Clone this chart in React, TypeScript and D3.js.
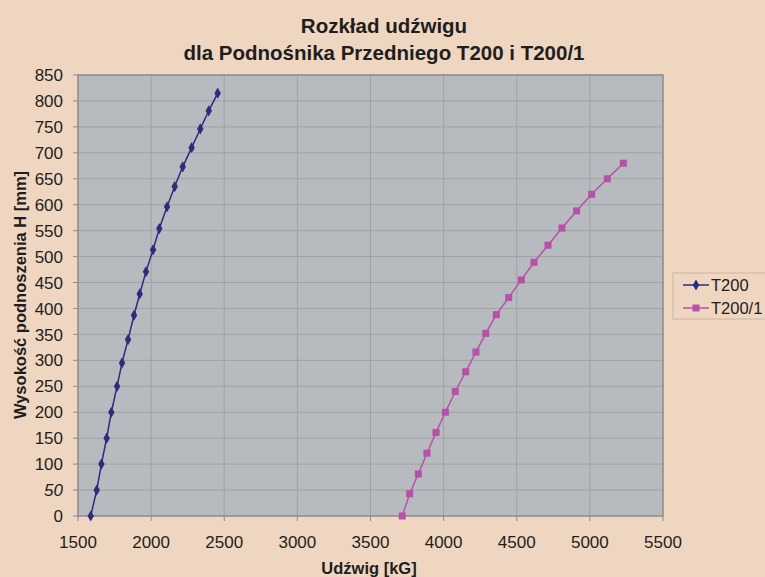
import React, { useEffect, useRef } from "react";
import * as d3 from "d3";

const T200_X = [1587, 1628, 1660, 1696, 1728, 1767, 1801, 1842, 1883, 1922, 1965, 2013, 2056, 2109, 2161, 2216, 2277, 2336, 2394, 2455];
const T200_Y = [0, 50, 100, 150, 200, 250, 295, 340, 387, 428, 471, 513, 554, 596, 635, 673, 710, 746, 781, 815];
const T2001_X = [3717, 3768, 3827, 3886, 3948, 4012, 4080, 4151, 4221, 4288, 4360, 4445, 4531, 4618, 4714, 4809, 4909, 5012, 5119, 5229];
const T2001_Y = [0, 43, 81, 121, 161, 200, 240, 278, 316, 352, 388, 421, 455, 489, 522, 555, 588, 620, 650, 680];
const X_TICKS = [1500, 2000, 2500, 3000, 3500, 4000, 4500, 5000, 5500];
const Y_TICKS = [0, 50, 100, 150, 200, 250, 300, 350, 400, 450, 500, 550, 600, 650, 700, 750, 800, 850];
const SERIES_NAMES = ["T200", "T200/1"];
const TITLE_LINES = ["Rozkład udźwigu", "dla Podnośnika Przedniego T200 i T200/1"];
const X_LABEL = "Udźwig [kG]";
const Y_LABEL = "Wysokość podnoszenia H [mm]";

const W = 765, H = 577;
const L = 78, R = 663, T = 75, B = 516;
const FONT = "'Liberation Sans', Arial, sans-serif";
const TXT = "#1e1e1e";

export default function App() {
  const ref = useRef<SVGSVGElement>(null);
  useEffect(() => {
    document.body.style.margin = "0";
    const svg = d3.select(ref.current);
    svg.selectAll("*").remove();
    const x = d3.scaleLinear().domain([1500, 5500]).range([L, R]);
    const y = d3.scaleLinear().domain([0, 850]).range([B, T]);

    svg.append("rect").attr("width", W).attr("height", H).attr("fill", "#efd6c0");
    svg.append("rect").attr("x", L).attr("y", T).attr("width", R - L).attr("height", B - T).attr("fill", "#b7bbbf");

    const g = svg.append("g");
    g.selectAll(".gx").data(X_TICKS.slice(1, -1)).join("line")
      .attr("x1", d => x(d)).attr("x2", d => x(d)).attr("y1", T).attr("y2", B)
      .attr("stroke", "#9ea2a6").attr("stroke-width", 1);
    g.selectAll(".gy").data(Y_TICKS.slice(1, -1)).join("line")
      .attr("y1", d => y(d)).attr("y2", d => y(d)).attr("x1", L).attr("x2", R)
      .attr("stroke", "#9ea2a6").attr("stroke-width", 1);

    svg.append("rect").attr("x", L).attr("y", T).attr("width", R - L).attr("height", B - T)
      .attr("fill", "none").attr("stroke", "#8a8c8e").attr("stroke-width", 1.5);

    svg.selectAll(".ty").data(Y_TICKS).join("line")
      .attr("x1", L - 5).attr("x2", L).attr("y1", d => y(d)).attr("y2", d => y(d))
      .attr("stroke", "#8a8c8e");
    svg.selectAll(".tx").data(X_TICKS).join("line")
      .attr("x1", d => x(d)).attr("x2", d => x(d)).attr("y1", B).attr("y2", B + 5)
      .attr("stroke", "#8a8c8e");

    svg.selectAll(".ly").data(Y_TICKS).join("text")
      .attr("x", L - 15).attr("y", d => y(d)).attr("dy", "0.36em")
      .attr("text-anchor", "end").attr("font-family", FONT).attr("font-size", 17)
      .attr("font-style", d => (d === 50 ? "italic" : "normal"))
      .attr("fill", TXT).text(d => String(d));
    svg.selectAll(".lx").data(X_TICKS).join("text")
      .attr("x", d => x(d)).attr("y", 548)
      .attr("text-anchor", "middle").attr("font-family", FONT).attr("font-size", 17)
      .attr("fill", TXT).text(d => String(d));

    svg.append("text").attr("x", 369).attr("y", 574).attr("text-anchor", "middle")
      .attr("font-family", FONT).attr("font-size", 16.5).attr("font-weight", "bold")
      .attr("fill", TXT).text(X_LABEL);
    svg.append("text").attr("transform", `translate(26,295) rotate(-90)`).attr("text-anchor", "middle")
      .attr("font-family", FONT).attr("font-size", 16.5).attr("font-weight", "bold")
      .attr("fill", TXT).text(Y_LABEL);

    TITLE_LINES.forEach((t, i) => {
      svg.append("text").attr("x", 384).attr("y", 33 + i * 27).attr("text-anchor", "middle")
        .attr("font-family", FONT).attr("font-size", 20.5).attr("font-weight", "bold")
        .attr("fill", TXT).text(t);
    });

    const line = d3.line<[number, number]>().x(d => x(d[0])).y(d => y(d[1]));
    const s1: [number, number][] = T200_X.map((v, i) => [v, T200_Y[i]]);
    const s2: [number, number][] = T2001_X.map((v, i) => [v, T2001_Y[i]]);
    const c1 = "#2b2c7c", c2 = "#b650a8";

    svg.append("path").attr("d", line(s1)).attr("fill", "none").attr("stroke", c1).attr("stroke-width", 1.5);
    const diamond = d3.symbol().type(d3.symbolDiamond).size(36);
    svg.selectAll(".m1").data(s1).join("path").attr("d", diamond)
      .attr("transform", d => `translate(${x(d[0])},${y(d[1])})`).attr("fill", c1);

    svg.append("path").attr("d", line(s2)).attr("fill", "none").attr("stroke", c2).attr("stroke-width", 1.5);
    svg.selectAll(".m2").data(s2).join("rect")
      .attr("x", d => x(d[0]) - 3.5).attr("y", d => y(d[1]) - 3.5).attr("width", 7).attr("height", 7)
      .attr("fill", c2);

    svg.append("rect").attr("x", 673).attr("y", 273).attr("width", 100).attr("height", 46)
      .attr("fill", "none").attr("stroke", "#c9b4a2").attr("stroke-width", 1);
    const ly = [285, 308];
    const cols = [c1, c2];
    SERIES_NAMES.forEach((n, i) => {
      svg.append("line").attr("x1", 683).attr("x2", 709).attr("y1", ly[i]).attr("y2", ly[i])
        .attr("stroke", cols[i]).attr("stroke-width", 1.5);
      if (i === 0) {
        svg.append("path").attr("d", diamond).attr("transform", `translate(696,${ly[i]})`).attr("fill", c1);
      } else {
        svg.append("rect").attr("x", 692.5).attr("y", ly[i] - 3.5).attr("width", 7).attr("height", 7).attr("fill", c2);
      }
      svg.append("text").attr("x", 711).attr("y", ly[i]).attr("dy", "0.36em")
        .attr("font-family", FONT).attr("font-size", 16.5).attr("fill", TXT).text(n);
    });
  }, []);
  return <svg ref={ref} width={W} height={H} style={{ display: "block" }} />;
}
